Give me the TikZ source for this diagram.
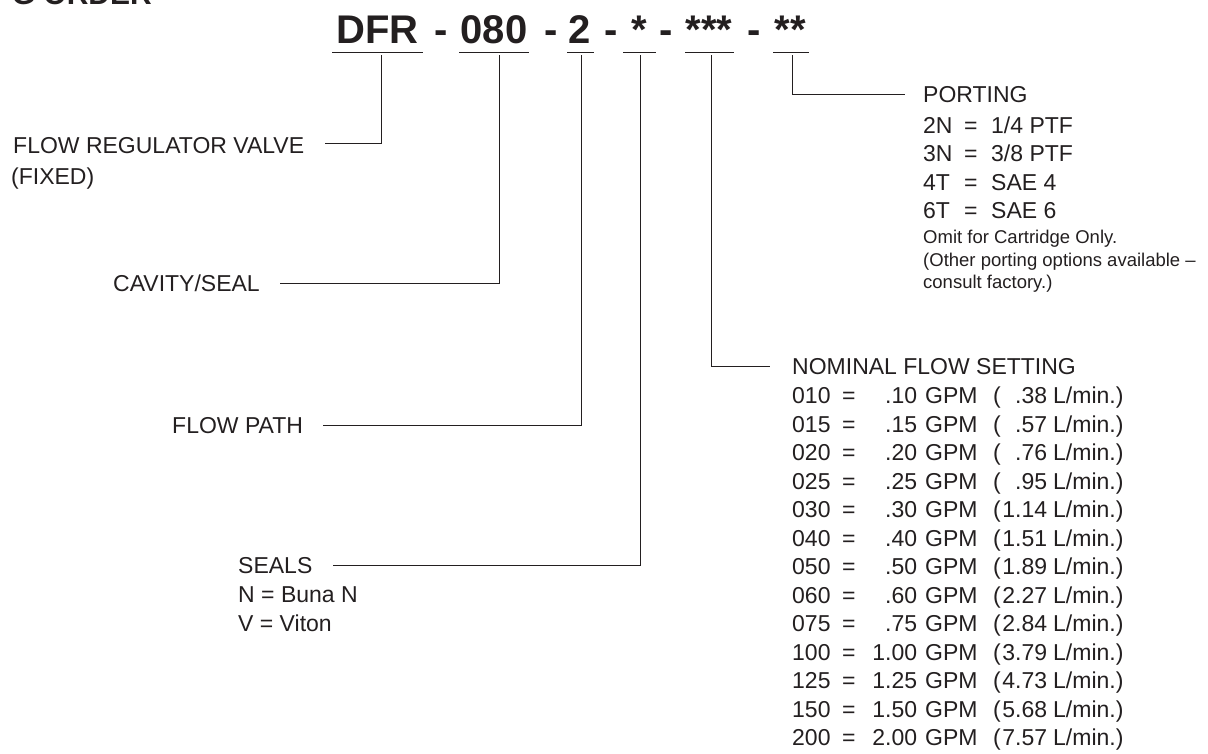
\documentclass[tikz,border=0pt]{standalone}
\usepackage{fontspec}
\setmainfont{Liberation Sans}
\definecolor{ink}{HTML}{231F20}
\newcommand\flowrow[3]{\makebox[50pt][l]{#1}\makebox[28pt][l]{=}\makebox[47pt][r]{#2}\hspace{8pt}\makebox[68pt][l]{GPM}\makebox[54pt][l]{(\hfill#3}\hspace{6pt}L/min.)}
\newcommand\portrow[2]{\makebox[41pt][l]{#1}\makebox[27pt][l]{=}#2}
\begin{document}
\begin{tikzpicture}[x=1pt,y=-1pt,
  lbl/.style={anchor=base west,inner sep=0pt,font=\fontsize{23}{23}\selectfont,text=ink},
  note/.style={anchor=base west,inner sep=0pt,font=\fontsize{18.5}{18.5}\selectfont,text=ink},
  ttl/.style={anchor=base,inner sep=0pt,font=\fontsize{40}{40}\selectfont\bfseries,text=ink},
  hdr/.style={anchor=base east,inner sep=0pt,font=\fontsize{30}{30}\selectfont\bfseries,text=ink},
  wire/.style={draw=ink,line width=1pt}]
\useasboundingbox (0,0) rectangle (1208,753);
\clip (0,0) rectangle (1208,753);
% header (cut off)
\node[hdr] (hdr) at (152,4) {G ORDER};
% title
\node[ttl] (p1) at (377.5,43) {DFR};
\node[ttl] (d1) at (441,43) {-};
\node[ttl] (p2) at (494,43) {080};
\node[ttl] (d2) at (551,43) {-};
\node[ttl] (p3) at (580,43) {2};
\node[ttl] (d3) at (611,43) {-};
\node[ttl] (p4) at (639,43) {*};
\node[ttl] (d4) at (666,43) {-};
\node[ttl] (p5) at (709,43) {***};
\node[ttl] (d5) at (754,43) {-};
\node[ttl] (p6) at (790,43) {**};
% underlines
\coordinate (u1a) at (332,52); \coordinate (u1b) at (423,52);
\coordinate (u2a) at (459,52); \coordinate (u2b) at (529,52);
\coordinate (u3a) at (567,52); \coordinate (u3b) at (594,52);
\coordinate (u4a) at (623,52); \coordinate (u4b) at (656,52);
\coordinate (u5a) at (685,52); \coordinate (u5b) at (734,52);
\coordinate (u6a) at (773,52); \coordinate (u6b) at (809,52);
\foreach \k in {1,...,6} \draw[wire] (u\k a) -- (u\k b);
% labels
\node[lbl] (frv) at (13,153) {FLOW REGULATOR VALVE};
\node[lbl] (fix) at (11,184) {(FIXED)};
\node[lbl] (cav) at (113,291.5) {CAVITY/SEAL};
\node[lbl] (fp) at (172,433) {FLOW PATH};
\node[lbl] (seals) at (238,573) {SEALS};
\node[lbl] (sn) at (238,602) {N = Buna N};
\node[lbl] (sv) at (238,631) {V = Viton};
\node[lbl] (port) at (923,102) {PORTING};
\node[lbl] (pt1) at (923,133) {\portrow{2N}{1/4 PTF}};
\node[lbl] (pt2) at (923,161.5) {\portrow{3N}{3/8 PTF}};
\node[lbl] (pt3) at (923,190) {\portrow{4T}{SAE 4}};
\node[lbl] (pt4) at (923,218.5) {\portrow{6T}{SAE 6}};
\node[note] (n1) at (923,243) {Omit for Cartridge Only.};
\node[note] (n2) at (923,266) {(Other porting options available –};
\node[note] (n3) at (923,288.5) {consult factory.)};
\node[lbl] (nom) at (792,374.5) {NOMINAL FLOW SETTING};
\foreach \c/\g/\l [count=\i from 0] in {010/.10/.38,015/.15/.57,020/.20/.76,025/.25/.95,030/.30/1.14,040/.40/1.51,050/.50/1.89,060/.60/2.27,075/.75/2.84,100/1.00/3.79,125/1.25/4.73,150/1.50/5.68,200/2.00/7.57}
  \node[lbl] (f\i) at (792,403.5+28.5*\i) {\flowrow{\c}{\g}{\l}};
% connectors
\coordinate (t1) at (381,55); \coordinate (c1) at (325,143);
\coordinate (t2) at (499,55); \coordinate (c2) at (280,283);
\coordinate (t3) at (581,55); \coordinate (c3) at (323,425);
\coordinate (t4) at (640,55); \coordinate (c4) at (333,565);
\coordinate (t5) at (711,55); \coordinate (c5) at (770,366);
\coordinate (t6) at (792,55); \coordinate (c6) at (905,94);
\foreach \k in {1,...,6} \draw[wire] (t\k) |- (c\k);
\end{tikzpicture}
\end{document}
